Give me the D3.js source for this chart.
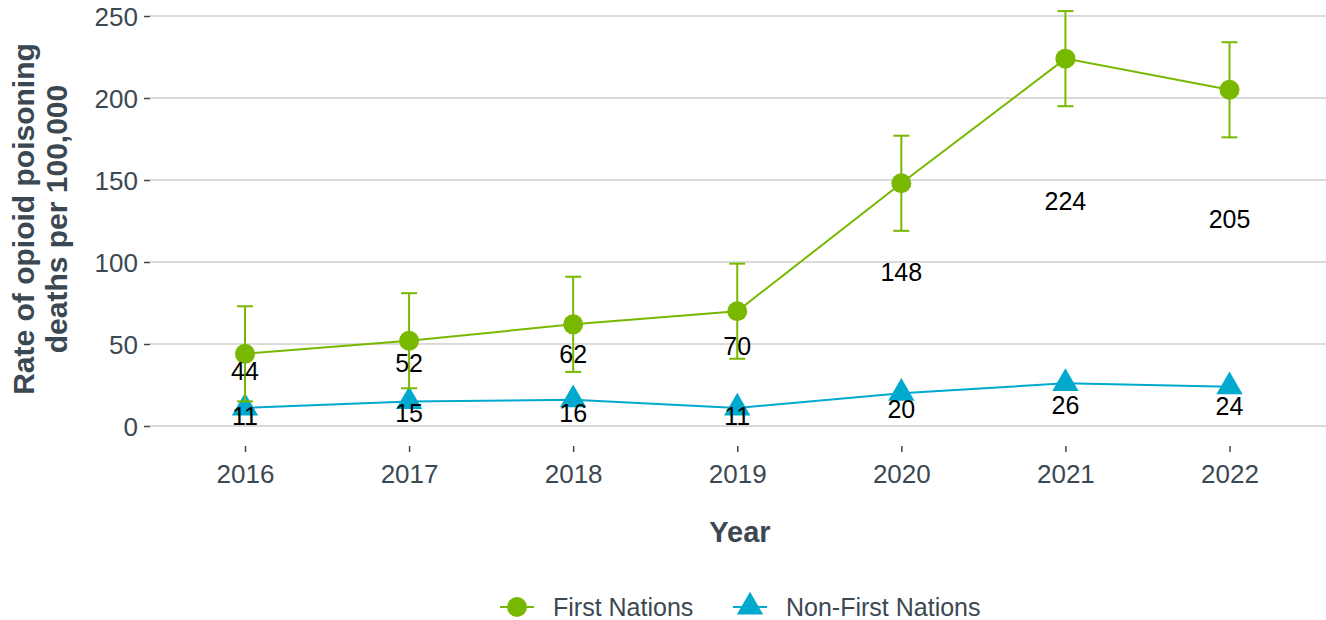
<!DOCTYPE html>
<html lang="en">
<head>
  <meta charset="UTF-8" />
  <title>Opioid poisoning deaths</title>
  <style>
  body { margin: 0; background: #fff; }
  text { font-family: "Liberation Sans", Arial, sans-serif; }
  .tick text { fill: #3b4852; font-size: 26px; }
  </style>
</head>
<body>
  <div id="chart"></div>

  <script src="https://cdn.jsdelivr.net/npm/d3@7"></script>
  <script>
  // data
  var years = [2016, 2017, 2018, 2019, 2020, 2021, 2022];
  var firstNations = [44, 52, 62, 70, 148, 224, 205];
  var firstNationsLow = [15, 23, 33, 41, 119, 195, 176];
  var firstNationsHigh = [73, 81, 91, 99, 177, 253, 234];
  var nonFirstNations = [11, 15, 16, 11, 20, 26, 24];
  var yTicks = [0, 50, 100, 150, 200, 250];
  var seriesNames = ["First Nations", "Non-First Nations"];

  var green = "#78b800",
      blue = "#00a9ce",
      axisGrey = "#3b4852";

  var w = 1326, h = 620;
  var left = 150, right = 1326;

  var svg = d3.select("#chart").append("svg")
    .attr("width", w)
    .attr("height", h);

  var xScale = d3.scalePoint()
    .domain(years)
    .range([245, 1229.5]);

  var yScale = d3.scaleLinear()
    .domain([0, 250])
    .range([426, 16]);

  // gridlines
  svg.append("g")
    .selectAll("line")
    .data(yTicks)
    .enter()
    .append("line")
      .attr("x1", left)
      .attr("x2", right)
      .attr("y1", function(d) { return yScale(d); })
      .attr("y2", function(d) { return yScale(d); })
      .attr("stroke", "#dadada")
      .attr("stroke-width", 2);

  // y axis
  var yAxis = svg.append("g")
    .attr("transform", "translate(" + left + ",0)")
    .call(d3.axisLeft(yScale).tickValues(yTicks).tickSize(6).tickPadding(6));
  yAxis.select(".domain").remove();
  yAxis.selectAll(".tick line").attr("stroke", axisGrey).attr("stroke-width", 1.5);
  yAxis.selectAll(".tick text").attr("dy", "0.36em");

  // x axis
  var xAxis = svg.append("g")
    .attr("transform", "translate(0,446)")
    .call(d3.axisBottom(xScale).tickSize(6).tickPadding(13));
  xAxis.select(".domain").remove();
  xAxis.selectAll(".tick line").attr("stroke", axisGrey).attr("stroke-width", 1.5);

  // axis titles
  svg.append("text")
    .attr("x", 740)
    .attr("y", 542)
    .attr("text-anchor", "middle")
    .attr("font-size", 29)
    .attr("font-weight", "bold")
    .attr("fill", axisGrey)
    .text("Year");

  var yTitle = svg.append("text")
    .attr("transform", "translate(0,219) rotate(-90)")
    .attr("text-anchor", "middle")
    .attr("font-size", 30)
    .attr("font-weight", "bold")
    .attr("fill", axisGrey);
  yTitle.append("tspan").attr("x", 0).attr("y", 34).text("Rate of opioid poisoning");
  yTitle.append("tspan").attr("x", 0).attr("y", 67).text("deaths per 100,000");

  // Non-First Nations
  var seriesLine = d3.line()
    .x(function(d, i) { return xScale(years[i]); })
    .y(function(d) { return yScale(d); });

  svg.append("path")
    .datum(nonFirstNations)
    .attr("d", seriesLine)
    .attr("fill", "none")
    .attr("stroke", blue)
    .attr("stroke-width", 2);

  var tri = d3.symbol().type(d3.symbolTriangle).size(300);

  svg.append("g")
    .selectAll("path")
    .data(nonFirstNations)
    .enter()
    .append("path")
      .attr("d", tri)
      .attr("transform", function(d, i) { return "translate(" + xScale(years[i]) + "," + yScale(d) + ")"; })
      .attr("fill", blue);

  // First Nations error bars
  var bars = svg.append("g")
    .selectAll("g")
    .data(years)
    .enter()
    .append("g")
      .attr("stroke", green)
      .attr("stroke-width", 2);

  bars.append("line")
    .attr("x1", function(d) { return xScale(d); })
    .attr("x2", function(d) { return xScale(d); })
    .attr("y1", function(d, i) { return yScale(firstNationsLow[i]); })
    .attr("y2", function(d, i) { return yScale(firstNationsHigh[i]); });
  bars.append("line")
    .attr("x1", function(d) { return xScale(d) - 8; })
    .attr("x2", function(d) { return xScale(d) + 8; })
    .attr("y1", function(d, i) { return yScale(firstNationsLow[i]); })
    .attr("y2", function(d, i) { return yScale(firstNationsLow[i]); });
  bars.append("line")
    .attr("x1", function(d) { return xScale(d) - 8; })
    .attr("x2", function(d) { return xScale(d) + 8; })
    .attr("y1", function(d, i) { return yScale(firstNationsHigh[i]); })
    .attr("y2", function(d, i) { return yScale(firstNationsHigh[i]); });

  svg.append("path")
    .datum(firstNations)
    .attr("d", seriesLine)
    .attr("fill", "none")
    .attr("stroke", green)
    .attr("stroke-width", 2);

  svg.append("g")
    .selectAll("circle")
    .data(firstNations)
    .enter()
    .append("circle")
      .attr("cx", function(d, i) { return xScale(years[i]); })
      .attr("cy", function(d) { return yScale(d); })
      .attr("r", 10)
      .attr("fill", green);

  // value labels (the reference places them on a compressed scale)
  svg.append("g")
    .selectAll("text")
    .data(firstNations)
    .enter()
    .append("text")
      .attr("x", function(d, i) { return xScale(years[i]); })
      .attr("y", function(d) { return yScale(d * 0.575 + 8.5); })
      .attr("dy", "0.36em")
      .attr("text-anchor", "middle")
      .attr("font-size", 25)
      .attr("fill", "#000")
      .text(function(d) { return d; });

  svg.append("g")
    .selectAll("text")
    .data(nonFirstNations)
    .enter()
    .append("text")
      .attr("x", function(d, i) { return xScale(years[i]); })
      .attr("y", function(d) { return yScale(d * 0.47 + 0.7); })
      .attr("dy", "0.36em")
      .attr("text-anchor", "middle")
      .attr("font-size", 25)
      .attr("fill", "#000")
      .text(function(d) { return d; });

  // legend
  var legend = svg.append("g").attr("transform", "translate(0,607)");

  var item = legend.selectAll("g")
    .data(seriesNames)
    .enter()
    .append("g")
      .attr("transform", function(d, i) { return "translate(" + (i == 0 ? 500 : 733) + ",0)"; });

  item.append("line")
    .attr("x1", 0).attr("x2", 34)
    .attr("stroke", function(d, i) { return i == 0 ? green : blue; })
    .attr("stroke-width", 2);
  item.append("path")
    .attr("d", function(d, i) { return i == 0 ? d3.symbol().type(d3.symbolCircle).size(314)() : tri(); })
    .attr("transform", "translate(17,0)")
    .attr("fill", function(d, i) { return i == 0 ? green : blue; });
  item.append("text")
    .attr("x", 53)
    .attr("dy", "0.36em")
    .attr("font-size", 25)
    .attr("fill", axisGrey)
    .text(function(d) { return d; });
  </script>
</body>
</html>
